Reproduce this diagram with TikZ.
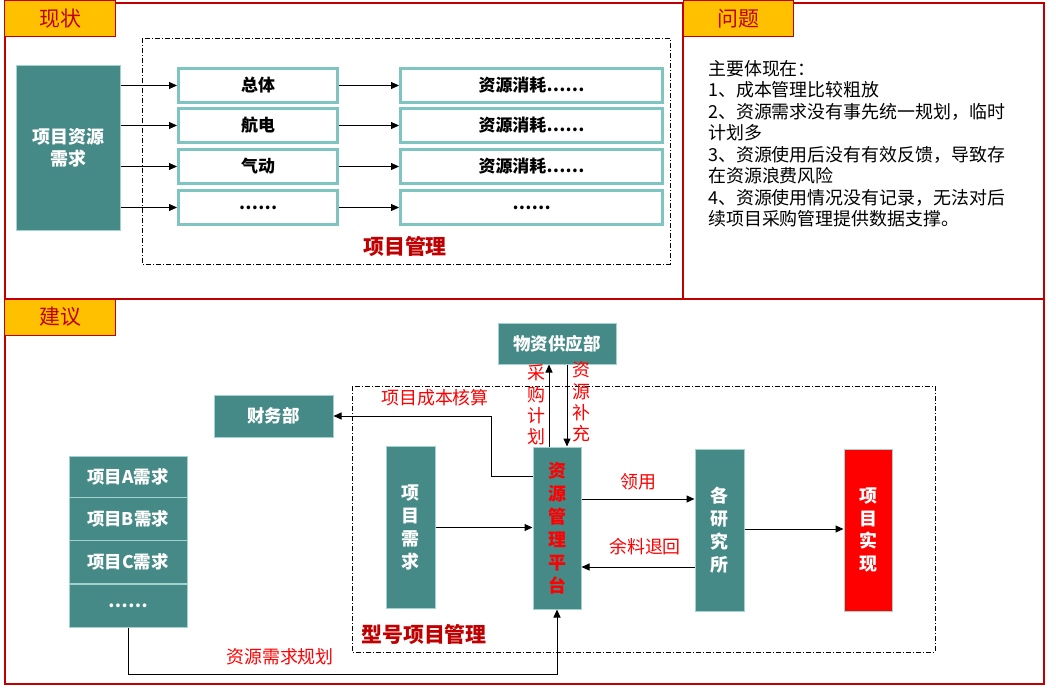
\documentclass[tikz,border=0pt]{standalone}
\usepackage{fontspec}
\setmainfont{Noto Sans CJK SC}
\usetikzlibrary{arrows.meta}
\definecolor{teal0}{HTML}{458A87}
\definecolor{tealline}{HTML}{A3D3D0}
\definecolor{tealbord}{HTML}{7EC4C1}
\definecolor{hdrfill}{HTML}{FFC000}
\definecolor{framered}{HTML}{C00000}
\definecolor{brightred}{HTML}{FF0000}
\tikzset{
  frame/.style={draw=framered, line width=1.3bp},
  hdr/.style={draw=framered, line width=1bp, fill=hdrfill, text=framered, minimum width=110bp, minimum height=36bp, inner sep=0pt, font=\fontsize{21}{25}\selectfont},
  tealbox/.style={draw=tealline, line width=1bp, fill=teal0, text=white, inner sep=0pt, font=\bfseries\fontsize{17.5}{22}\selectfont, align=center},
  rowbox/.style={draw=tealbord, line width=3bp, fill=white, inner sep=0pt, font=\bfseries\fontsize{17}{20}\selectfont},
  arr/.style={draw=black, line width=1bp, -{Triangle[length=8bp,width=7bp]}},
  dashdot/.style={draw=black, line width=0.8bp, dash pattern=on 5bp off 2bp on 1bp off 2bp},
  redlbl/.style={text=brightred, inner sep=0pt, font=\fontsize{18}{21.5}\selectfont, align=center},
  darkredlbl/.style={text=framered, inner sep=0pt, font=\bfseries\fontsize{21}{24}\selectfont},
  vtext/.style={font=\bfseries\fontsize{18}{23}\selectfont, align=center}
}
\begin{document}
\begin{tikzpicture}[x=1bp,y=-1bp]
\useasboundingbox (0,0) rectangle (1056,688);
% frames
\draw[frame] (5,3) rectangle (683,299);
\draw[frame] (683,3) rectangle (1044,299);
\draw[frame] (5,299) rectangle (1044,684);
% headers
\node[hdr] (h1) at (60,19) {现状};
\node[hdr] (h2) at (738,19) {问题};
\node[hdr] (h3) at (60,317) {建议};

% ===== top-left =====
\draw[dashdot] (142,38) rectangle (670,264);
\node[tealbox, font=\bfseries\fontsize{18}{22}\selectfont, minimum width=103bp, minimum height=164bp] (need) at (68.5,148) {项目资源\\需求};
\foreach \i/\y/\t/\u in {1/85.5/总体/资源消耗……, 2/125.5/航电/资源消耗……, 3/166.5/气动/资源消耗……, 4/207.5/……/……}{
  \node[rowbox, minimum width=159bp, minimum height=34bp] (c\i) at (258,\y) {\t};
  \node[rowbox, minimum width=262bp, minimum height=34bp] (d\i) at (531.5,\y) {\u};
  \draw[arr] (need.east |- c\i.west) -- (c\i.west);
  \draw[arr] (c\i.east) -- (d\i.west);
}
\node[darkredlbl] (pm) at (405,246) {项目管理};

% ===== problem text =====
\node[anchor=north west, inner sep=0pt, align=left, font=\fontsize{18}{21.6}\selectfont] (prob) at (708,60)
{主要体现在：\\
1、成本管理比较粗放\\
2、资源需求没有事先统一规划，临时\\
计划多\\
3、资源使用后没有有效反馈，导致存\\
在资源浪费风险\\
4、资源使用情况没有记录，无法对后\\
续项目采购管理提供数据支撑。};

% ===== bottom =====
\draw[dashdot] (352,386) rectangle (935,652);
\node[tealbox, minimum width=118bp, minimum height=41bp] (sup) at (557,343.5) {物资供应部};
\node[tealbox, minimum width=119bp, minimum height=42bp] (fin) at (273.5,416) {财务部};

\node[tealbox, minimum width=118bp, minimum height=42bp] (pa) at (128,477) {项目A需求};
\node[tealbox, minimum width=118bp, minimum height=43bp] (pb) at (128,519) {项目B需求};
\node[tealbox, minimum width=118bp, minimum height=43bp] (pc) at (128,562) {项目C需求};
\node[tealbox, minimum width=118bp, minimum height=43bp] (pd) at (128,605.5) {……};

\node[tealbox, vtext, minimum width=49bp, minimum height=162bp] (req) at (410.5,527.5) {项\\目\\需\\求};
\node[tealbox, vtext, text=brightred, minimum width=48bp, minimum height=162bp] (plat) at (557,528) {资\\源\\管\\理\\平\\台};
\node[tealbox, vtext, minimum width=49bp, minimum height=162bp] (inst) at (719.5,530) {各\\研\\究\\所};
\node[tealbox, vtext, fill=brightred, draw=tealline, minimum width=48bp, minimum height=162bp] (impl) at (868,530) {项\\目\\实\\现};

% connectors
\draw[arr] (req.east) -- (plat.west |- req.east);
\draw[arr] (plat.east |- 0,499) -- (inst.west |- 0,499);
\draw[arr] (inst.west |- 0,567) -- (plat.east |- 0,567);
\draw[arr] (inst.east |- 0,529) -- (impl.west |- 0,529);
\draw[arr] (plat.north -| 549,0) -- (sup.south -| 549,0);
\draw[arr] (sup.south -| 567,0) -- (plat.north -| 567,0);
\draw[arr] (plat.west |- 0,476) -- (491,476) |- (fin.east);
\draw[arr] (pd.south) -- (128,674) -| (plat.south);

% labels
\node[redlbl] (l1) at (435,398) {项目成本核算};
\node[redlbl] (l2) at (536,405) {采\\购\\计\\划};
\node[redlbl] (l3) at (581,402) {资\\源\\补\\充};
\node[redlbl] (l4) at (638,482) {领用};
\node[redlbl] (l5) at (645,547) {余料退回};
\node[redlbl] (l6) at (280,657) {资源需求规划};
\node[darkredlbl] (l7) at (424,634) {型号项目管理};
\end{tikzpicture}
\end{document}
